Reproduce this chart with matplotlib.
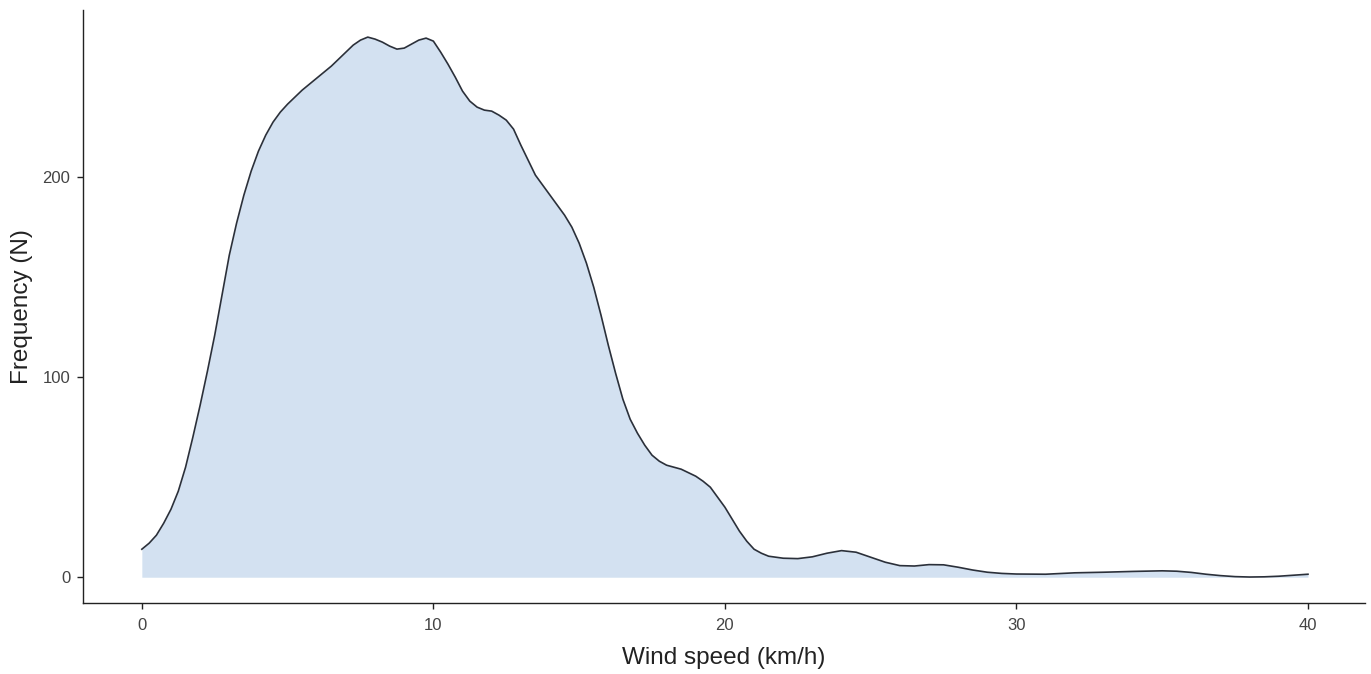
import matplotlib
matplotlib.use("Agg")
import matplotlib.pyplot as plt

plt.rcParams["font.family"] = ["Liberation Sans", "DejaVu Sans"]

# wind speed (km/h) and frequency
wind_speed = [0, 0.25, 0.5, 0.75, 1, 1.25, 1.5, 1.75, 2, 2.25,
              2.5, 2.75, 3, 3.25, 3.5, 3.75, 4, 4.25, 4.5, 4.75,
              5, 5.5, 6, 6.5, 7, 7.25, 7.5, 7.75, 8, 8.25,
              8.5, 8.75, 9, 9.25, 9.5, 9.75, 10, 10.25, 10.5, 10.75,
              11, 11.25, 11.5, 11.75, 12, 12.25, 12.5, 12.75, 13, 13.25,
              13.5, 13.75, 14, 14.25, 14.5, 14.75, 15, 15.25, 15.5, 15.75,
              16, 16.25, 16.5, 16.75, 17, 17.25, 17.5, 17.75, 18, 18.5,
              19, 19.25, 19.5, 19.75, 20, 20.25, 20.5, 20.75, 21, 21.25,
              21.5, 22, 22.5, 23, 23.5, 24, 24.5, 25, 25.5, 26,
              26.5, 27, 27.5, 28, 28.5, 29, 29.5, 30, 31, 32,
              33, 34, 35, 35.5, 36, 36.5, 37, 37.5, 38, 38.5,
              39, 39.5, 40]
frequency = [14, 17, 21, 27, 34, 43, 55, 70, 86, 103,
             121, 141, 161, 177, 191, 203, 213, 221, 227.5, 232.5,
             236.5, 243.5, 249.5, 255.5, 262.5, 266, 268.5, 270, 269, 267.5,
             265.5, 264, 264.5, 266.5, 268.5, 269.5, 268, 262.5, 256.5, 250,
             243, 238, 235, 233.5, 233, 231, 228.5, 224, 216, 208.5,
             201, 196, 191, 186, 181, 175, 167, 157, 145, 131,
             116, 102, 89, 79, 72, 66, 61, 58, 56, 54,
             50.5, 48, 45, 40, 35, 29, 23, 18, 14, 12,
             10.5, 9.5, 9.3, 10.2, 12, 13.3, 12.5, 10, 7.5, 5.8,
             5.6, 6.3, 6.2, 5, 3.6, 2.5, 1.9, 1.6, 1.5, 2.2,
             2.5, 2.9, 3.2, 3, 2.4, 1.5, 0.8, 0.3, 0.1, 0.2,
             0.5, 1, 1.5]

x_ticks = [0, 10, 20, 30, 40]
y_ticks = [0, 100, 200]

fig = plt.figure(figsize=(13.71, 6.74), dpi=100)
ax = fig.add_axes([0.0605, 0.105, 0.935, 0.88])

ax.fill_between(wind_speed, frequency, 0, color="#d3e1f1", linewidth=0)
ax.plot(wind_speed, frequency, color="#2b303a", linewidth=1.2,
        solid_joinstyle="round")

ax.set_xlim(-2.02, 41.95)
ax.set_ylim(-13, 283.5)
ax.set_xticks(x_ticks)
ax.set_yticks(y_ticks)

for side in ["top", "right"]:
    ax.spines[side].set_visible(False)
for side in ["left", "bottom"]:
    ax.spines[side].set_color("#222222")
    ax.spines[side].set_linewidth(1.0)

ax.tick_params(axis="both", length=4, width=1.0, color="#222222",
               labelsize=12, labelcolor="#444444")
ax.tick_params(axis="x", pad=6.5)
ax.tick_params(axis="y", pad=5)

ax.set_xlabel("Wind speed (km/h)", fontsize=17.5, color="#222222", labelpad=10)
ax.set_ylabel("Frequency (N)", fontsize=17.5, color="#222222", labelpad=7)

fig.savefig("out.png", dpi=100)
